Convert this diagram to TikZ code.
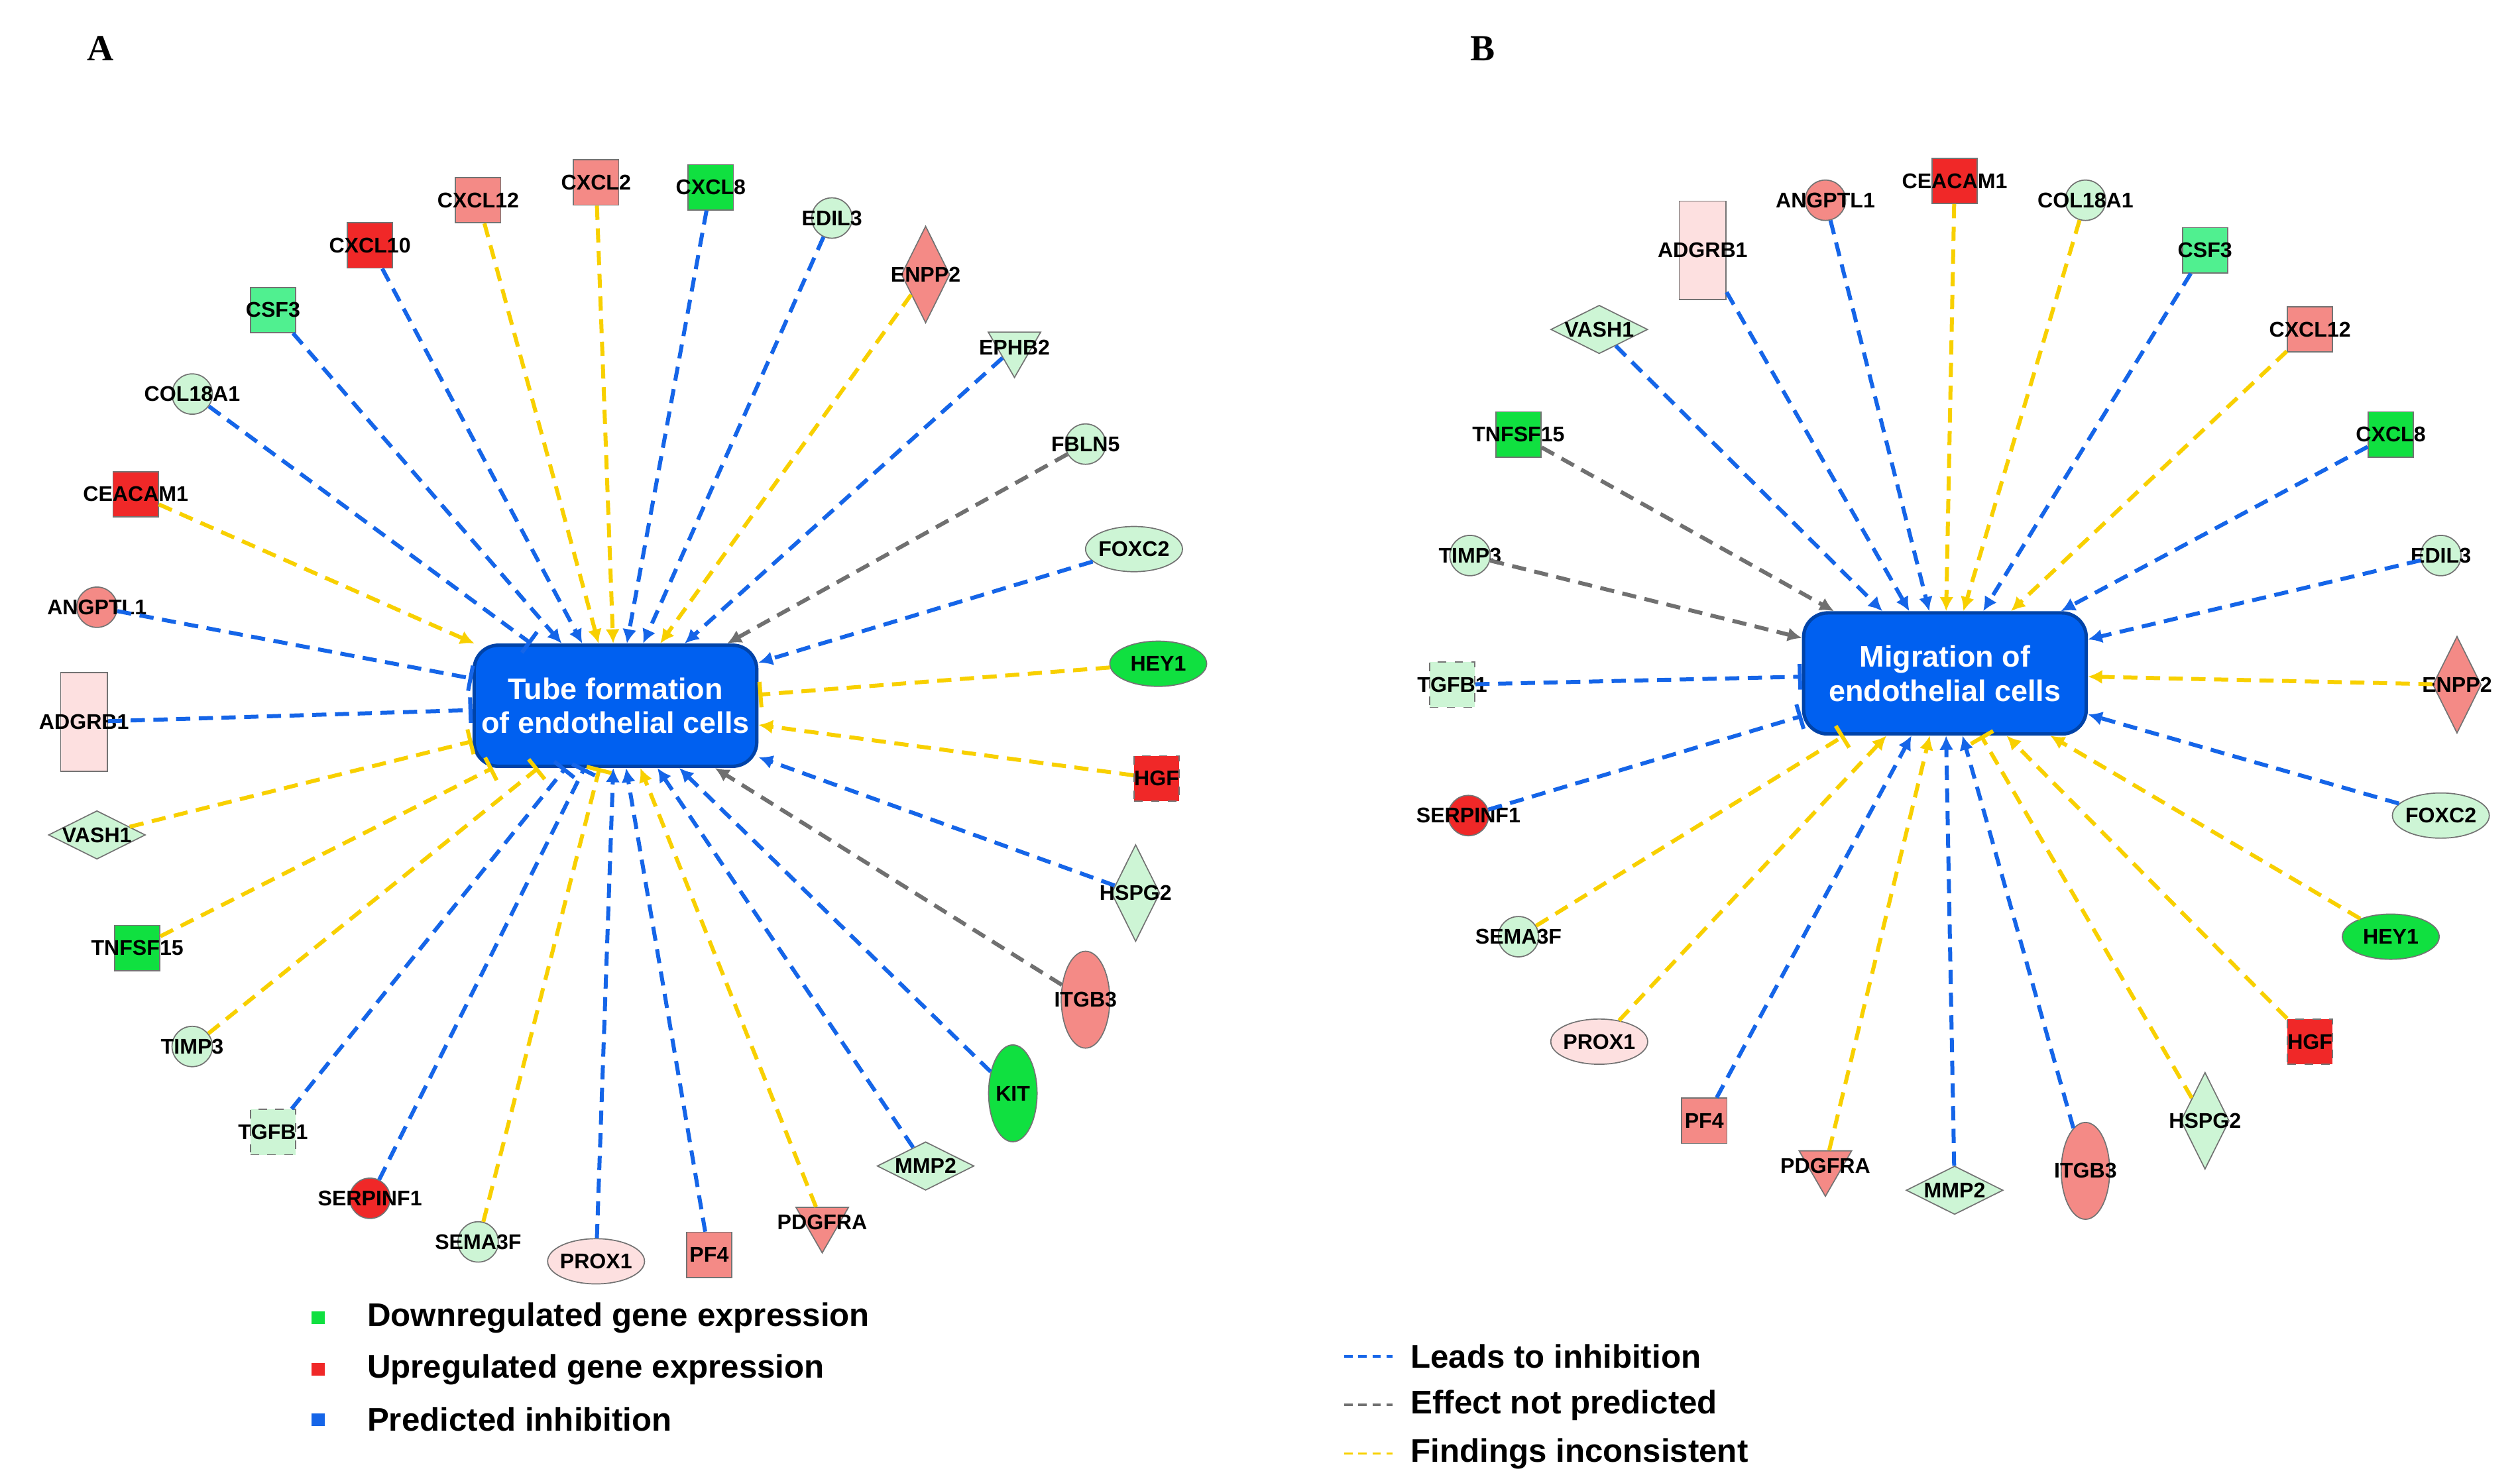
\documentclass[tikz,border=0pt]{standalone}
\usepackage{fontspec}
\setmainfont{Liberation Sans}
\newfontfamily\serif{Liberation Serif}
\usetikzlibrary{shapes.geometric,arrows.meta}
\definecolor{cred}{HTML}{F02828}
\definecolor{csal}{HTML}{F48A86}
\definecolor{cpink}{HTML}{FDE0E0}
\definecolor{cgrn}{HTML}{10E040}
\definecolor{cmgrn}{HTML}{50F090}
\definecolor{clgrn}{HTML}{CDF5D5}
\definecolor{cblue}{HTML}{1565E8}
\definecolor{cyel}{HTML}{F8D000}
\definecolor{cgry}{HTML}{707070}
\definecolor{boxb}{HTML}{0060F0}
\tikzset{
 x=0.02cm,y=0.02cm,
 base/.style={draw=black!55,line width=0.4pt,inner sep=0pt},
 sq/.style={base,rectangle,minimum size=0.56cm},
 rc/.style={base,rectangle,minimum width=0.58cm,minimum height=1.22cm},
 ci/.style={base,circle,minimum size=0.5cm},
 el/.style={base,ellipse,minimum width=1.2cm,minimum height=0.56cm},
 ve/.style={base,ellipse,minimum width=0.6cm,minimum height=1.2cm},
 di/.style={base,diamond,minimum width=0.6cm,minimum height=1.2cm},
 hd/.style={base,diamond,minimum width=1.2cm,minimum height=0.6cm},
 tr/.style={base,regular polygon,regular polygon sides=3,shape border rotate=180,minimum size=0.75cm},
 tp/.style={base,rectangle,minimum size=0.56cm},
 dsh/.style={dashed},
 lbl/.style={font=\fontsize{7.5}{8}\selectfont\bfseries,inner sep=0pt},
 cbox/.style={draw=boxb!70!black,line width=1.2pt,fill=boxb,rounded corners=0.3cm,minimum width=3.5cm,minimum height=1.5cm,text=white,align=center,font=\fontsize{10.5}{12}\selectfont\bfseries,inner sep=1pt},
 e/.style={dash pattern=on 5pt off 3pt,line width=1.4pt},
 bA/.style={e,cblue,-{Latex[length=5pt,width=5pt]}},
 bI/.style={e,cblue,-{Bar[width=9pt]}},
 yA/.style={e,cyel,-{Latex[length=5pt,width=5pt]}},
 yI/.style={e,cyel,-{Bar[width=9pt]}},
 gA/.style={e,cgry,-{Latex[length=5pt,width=5pt]}},
 leg/.style={font=\fontsize{11.5}{13}\selectfont\bfseries,anchor=west,inner sep=0pt},
}
\newcommand\gn[5]{\node[#4] (#1) at (#2,-#3) {}; \node[lbl] at (#2,-#3) {#5};}
\begin{document}
\begin{tikzpicture}
\useasboundingbox (0,0) rectangle (1560,-918);
\node[font=\serif\fontsize{13}{14}\selectfont\bfseries] (LA) at (62,-30) {A};
\node[font=\serif\fontsize{13}{14}\selectfont\bfseries] (LB) at (918,-30) {B};
% ---------- A
\node[cbox] (ca) at (381,-437) {Tube formation\\of endothelial cells};
\gn{a1}{229}{152}{sq,fill=cred}{CXCL10}
\gn{a2}{296}{124}{sq,fill=csal}{CXCL12}
\gn{a3}{369}{113}{sq,fill=csal}{CXCL2}
\gn{a4}{440}{116}{sq,fill=cgrn}{CXCL8}
\gn{a5}{515}{135}{ci,fill=clgrn}{EDIL3}
\gn{a6}{573}{170}{di,fill=csal}{ENPP2}
\gn{a7}{628}{215}{tr,fill=clgrn}{EPHB2}
\gn{a8}{672}{275}{ci,fill=clgrn}{FBLN5}
\gn{a9}{702}{340}{el,fill=clgrn}{FOXC2}
\gn{a10}{717}{411}{el,fill=cgrn}{HEY1}
\gn{a11}{716}{482}{sq,dsh,fill=cred}{HGF}
\gn{a12}{703}{553}{di,fill=clgrn}{HSPG2}
\gn{a13}{672}{619}{ve,fill=csal}{ITGB3}
\gn{a14}{627}{677}{ve,fill=cgrn}{KIT}
\gn{a15}{573}{722}{hd,fill=clgrn}{MMP2}
\gn{a16}{509}{757}{tr,fill=csal}{PDGFRA}
\gn{a17}{439}{777}{sq,fill=csal}{PF4}
\gn{a18}{369}{781}{el,fill=cpink}{PROX1}
\gn{a19}{296}{769}{ci,fill=clgrn}{SEMA3F}
\gn{a20}{229}{742}{ci,fill=cred}{SERPINF1}
\gn{a21}{169}{701}{sq,dsh,fill=clgrn}{TGFB1}
\gn{a22}{119}{648}{ci,fill=clgrn}{TIMP3}
\gn{a23}{85}{587}{sq,fill=cgrn}{TNFSF15}
\gn{a24}{60}{517}{hd,fill=clgrn}{VASH1}
\gn{a25}{52}{447}{rc,fill=cpink}{ADGRB1}
\gn{a26}{60}{376}{ci,fill=csal}{ANGPTL1}
\gn{a27}{84}{306}{tp,fill=cred}{CEACAM1}
\gn{a28}{119}{244}{ci,fill=clgrn}{COL18A1}
\gn{a29}{169}{192}{sq,fill=cmgrn}{CSF3}
\draw[bA] (a1)--(ca); \draw[yA] (a2)--(ca); \draw[yA] (a3)--(ca);
\draw[bA] (a4)--(ca); \draw[bA] (a5)--(ca); \draw[yA] (a6)--(ca);
\draw[bA] (a7)--(ca); \draw[gA] (a8)--(ca); \draw[bA] (a9)--(ca);
\draw[yI] (a10)--(ca); \draw[yA] (a11)--(ca); \draw[bA] (a12)--(ca);
\draw[gA] (a13)--(ca); \draw[bA] (a14)--(ca); \draw[bA] (a15)--(ca);
\draw[yA] (a16)--(ca); \draw[bA] (a17)--(ca); \draw[bA] (a18)--(ca);
\draw[yI] (a19)--(ca); \draw[bI] (a20)--(ca); \draw[bI] (a21)--(ca);
\draw[yI] (a22)--(ca); \draw[yI] (a23)--(ca); \draw[yI] (a24)--(ca);
\draw[bI] (a25)--(ca); \draw[bI] (a26)--(ca); \draw[yA] (a27)--(ca);
\draw[bI] (a28)--(ca); \draw[bA] (a29)--(ca);
% ---------- B
\node[cbox] (cb) at (1204,-417) {Migration of\\endothelial cells};
\gn{b1}{1054}{155}{rc,fill=cpink}{ADGRB1}
\gn{b2}{1130}{124}{ci,fill=csal}{ANGPTL1}
\gn{b3}{1210}{112}{tp,fill=cred}{CEACAM1}
\gn{b4}{1291}{124}{ci,fill=clgrn}{COL18A1}
\gn{b5}{1365}{155}{sq,fill=cmgrn}{CSF3}
\gn{b6}{1430}{204}{sq,fill=csal}{CXCL12}
\gn{b7}{1480}{269}{sq,fill=cgrn}{CXCL8}
\gn{b8}{1511}{344}{ci,fill=clgrn}{EDIL3}
\gn{b9}{1521}{424}{di,fill=csal}{ENPP2}
\gn{b10}{1511}{505}{el,fill=clgrn}{FOXC2}
\gn{b11}{1480}{580}{el,fill=cgrn}{HEY1}
\gn{b12}{1430}{645}{sq,dsh,fill=cred}{HGF}
\gn{b13}{1365}{694}{di,fill=clgrn}{HSPG2}
\gn{b14}{1291}{725}{ve,fill=csal}{ITGB3}
\gn{b15}{1210}{737}{hd,fill=clgrn}{MMP2}
\gn{b16}{1130}{722}{tr,fill=csal}{PDGFRA}
\gn{b17}{1055}{694}{sq,fill=csal}{PF4}
\gn{b18}{990}{645}{el,fill=cpink}{PROX1}
\gn{b19}{940}{580}{ci,fill=clgrn}{SEMA3F}
\gn{b20}{909}{505}{ci,fill=cred}{SERPINF1}
\gn{b21}{899}{424}{sq,dsh,fill=clgrn}{TGFB1}
\gn{b22}{910}{344}{ci,fill=clgrn}{TIMP3}
\gn{b23}{940}{269}{sq,fill=cgrn}{TNFSF15}
\gn{b24}{990}{204}{hd,fill=clgrn}{VASH1}
\draw[bA] (b1)--(cb); \draw[bA] (b2)--(cb); \draw[yA] (b3)--(cb);
\draw[yA] (b4)--(cb); \draw[bA] (b5)--(cb); \draw[yA] (b6)--(cb);
\draw[bA] (b7)--(cb); \draw[bA] (b8)--(cb); \draw[yA] (b9)--(cb);
\draw[bA] (b10)--(cb); \draw[yA] (b11)--(cb); \draw[yA] (b12)--(cb);
\draw[yI] (b13)--(cb); \draw[bA] (b14)--(cb); \draw[bA] (b15)--(cb);
\draw[yA] (b16)--(cb); \draw[bA] (b17)--(cb); \draw[yA] (b18)--(cb);
\draw[yI] (b19)--(cb); \draw[bI] (b20)--(cb); \draw[bI] (b21)--(cb);
\draw[gA] (b22)--(cb); \draw[gA] (b23)--(cb); \draw[bA] (b24)--(cb);
% ---------- legends
\node[fill=cgrn,minimum size=0.16cm,inner sep=0pt] (k1) at (197,-816) {};
\node[fill=cred,minimum size=0.16cm,inner sep=0pt] (k2) at (197,-848) {};
\node[fill=cblue,minimum size=0.16cm,inner sep=0pt] (k3) at (197,-879) {};
\node[leg] (t1) at (227,-816) {Downregulated gene expression};
\node[leg] (t2) at (227,-848) {Upregulated gene expression};
\node[leg] (t3) at (227,-879) {Predicted inhibition};
\coordinate (l1a) at (832,-840); \coordinate (l1b) at (862,-840);
\coordinate (l2a) at (832,-870); \coordinate (l2b) at (862,-870);
\coordinate (l3a) at (832,-900); \coordinate (l3b) at (862,-900);
\draw[cblue,dash pattern=on 3pt off 2pt,line width=0.9pt] (l1a)--(l1b);
\draw[cgry,dash pattern=on 3pt off 2pt,line width=0.9pt] (l2a)--(l2b);
\draw[cyel,dash pattern=on 3pt off 2pt,line width=0.9pt] (l3a)--(l3b);
\node[leg] (u1) at (873,-840) {Leads to inhibition};
\node[leg] (u2) at (873,-870) {Effect not predicted};
\node[leg] (u3) at (873,-900) {Findings inconsistent};
\end{tikzpicture}
\end{document}
